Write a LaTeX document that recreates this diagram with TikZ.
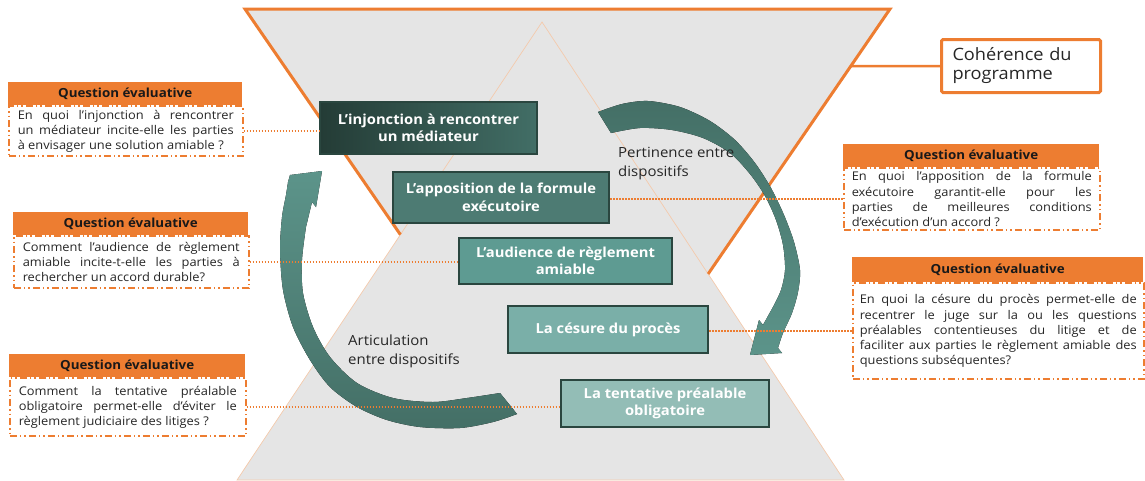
\documentclass[tikz,border=0pt]{standalone}
\usepackage{fontspec}
\setmainfont{Open Sans}[FakeStretch=1.07]
\usetikzlibrary{calc}
\definecolor{qorange}{RGB}{237,125,49}
\definecolor{paleorange}{RGB}{244,202,172}
\definecolor{bggrey}{RGB}{229,229,229}
\definecolor{txtgrey}{RGB}{38,38,38}
\definecolor{stepline}{RGB}{42,70,63}
\definecolor{stepA}{RGB}{36,60,54}
\definecolor{stepAr}{RGB}{66,110,102}
\definecolor{stepB}{RGB}{77,123,115}
\definecolor{stepC}{RGB}{94,155,146}
\definecolor{stepD}{RGB}{122,175,168}
\definecolor{stepE}{RGB}{147,189,182}
\definecolor{arrowdark}{RGB}{68,111,102}
\definecolor{arrowlight}{RGB}{92,148,138}
\tolerance=9999
\hyphenpenalty=10000
\exhyphenpenalty=10000
\newcommand{\qtitle}{Question évaluative}
\tikzset{
    common/.style={anchor=north west, inner sep=0pt},
    qhead/.style={common, fill=qorange, text=black!90, font=\bfseries\fontsize{12.5}{14}\selectfont, minimum height=23pt},
    qbody/.style={common, draw=qorange, line width=1.5pt, dash pattern=on 7pt off 3pt on 1.5pt off 3pt on 1.5pt off 3pt, text=txtgrey, font=\fontsize{12}{15.3}\selectfont, align=justify, inner xsep=9pt},
    stepbox/.style={draw=stepline, line width=2pt, text=white, font=\bfseries\fontsize{13.8}{17.5}\selectfont, align=center},
    link/.style={qorange, line width=1.5pt, dash pattern=on 1.5pt off 1.5pt},
    loopnote/.style={common, text=txtgrey, font=\fontsize{14}{19}\selectfont, align=left}
}

\begin{document}
\begin{tikzpicture}[x=1pt, y=-1pt]
    \useasboundingbox (0,0) rectangle (1145,480);
    % hourglass
    \coordinate (ul) at (245,9);
    \coordinate (ur) at (890,9);
    \coordinate (ua) at (568,478);
    \coordinate (la) at (542,22);
    \coordinate (ll) at (237,480);
    \coordinate (lr) at (844,480);
    \coordinate (xl) at (intersection of ul--ua and la--ll);
    \coordinate (xr) at (intersection of ur--ua and la--lr);
    \fill[bggrey] (ul) -- (ur) -- (ua) -- cycle;
    \filldraw[fill=bggrey, draw=paleorange, line width=0.7pt] (la) -- (ll) -- (lr) -- cycle;
    \draw[qorange, line width=3pt, line join=miter] (xl) -- (ul) -- (ur) -- (xr);

    % loop arrows
    \fill[top color=arrowdark, bottom color=arrowlight]
        plot[smooth] coordinates {(598,112) (622,104) (648,101) (680,107) (710,121) (735,140) (755,163) (771,188) (784,215) (794,242) (800,270) (798,292) (792,313) (783,333) (778,348)}
        -- (782,353) -- (750,355) -- (759,320) -- (763,325)
        -- plot[smooth] coordinates {(773,307) (781,290) (785,270) (783,245) (776,220) (765,196) (750,174) (730,153) (703,138) (672,130) (640,128) (611,133)}
        -- cycle;
    \fill[top color=arrowlight, bottom color=arrowdark]
        plot[smooth] coordinates {(517,414) (493,422) (460,428) (420,427) (387,420) (357,407) (330,387) (310,360) (293,327) (283,290) (280,250) (282,217) (286,195) (288,182)}
        -- (290,175) -- (322,171) -- (316,207) -- (312,202)
        -- plot[smooth] coordinates {(306,227) (302,260) (303,293) (313,327) (330,357) (357,383) (393,398) (433,402) (467,398) (500,393)}
        -- cycle;

    % steps
    \node[stepbox, left color=stepA, right color=stepAr, minimum width=217pt, minimum height=52pt] (inj) at (428.5,128) {L’injonction à rencontrer\\un médiateur};
    \node[stepbox, fill=stepB, minimum width=216pt, minimum height=51pt] (app) at (501,197.5) {L’apposition de la formule\\exécutoire};
    \node[stepbox, fill=stepC, minimum width=213pt, minimum height=46pt] (aud) at (565.5,261) {L’audience de règlement\\amiable};
    \node[stepbox, fill=stepD, minimum width=200pt, minimum height=47pt] (ces) at (608,329.5) {La césure du procès};
    \node[stepbox, fill=stepE, minimum width=208pt, minimum height=47pt] (tpo) at (665,403.5) {La tentative préalable\\obligatoire};

    % questions
    \node[qhead, minimum width=234pt] (q1h) at (8,82) {\qtitle};
    \node[qbody, text width=216pt, minimum height=50pt] (q1b) at (q1h.south west) {En quoi l’injonction à rencontrer\linebreak un médiateur incite-elle les parties\linebreak à envisager une solution amiable~?};
    \node[qhead, minimum width=235pt] (q2h) at (13,212) {\qtitle};
    \node[qbody, text width=217pt, minimum height=52pt] (q2b) at (q2h.south west) {Comment l’audience de règlement\linebreak amiable incite-t-elle les parties à\linebreak rechercher un accord durable?};
    \node[qhead, minimum width=236pt] (q3h) at (9,354) {\qtitle};
    \node[qbody, text width=218pt, minimum height=58pt] (q3b) at (q3h.south west) {Comment la tentative préalable\linebreak obligatoire permet-elle d’éviter le\linebreak règlement judiciaire des litiges~?};
    \node[qhead, minimum width=256pt] (q4h) at (843,144) {\qtitle};
    \node[qbody, text width=240pt, inner xsep=8pt, minimum height=62pt] (q4b) at (q4h.south west) {En quoi l’apposition de la formule\linebreak exécutoire garantit-elle pour les\linebreak parties de meilleures conditions\linebreak d’exécution d’un accord~?};
    \node[qhead, minimum width=291pt, minimum height=25pt] (q5h) at (852,257) {\qtitle};
    \node[qbody, text width=277pt, inner xsep=7pt, minimum height=96pt] (q5b) at (q5h.south west) {En quoi la césure du procès permet-elle de\linebreak recentrer le juge sur la ou les questions\linebreak préalables contentieuses du litige et de\linebreak faciliter aux parties le règlement amiable des\linebreak questions subséquentes?};

    \draw[link] (q1b.east) -- (q1b.east -| inj.west);
    \draw[link] (q2b.east) -- (q2b.east -| aud.west);
    \draw[link] (q3b.east) -- (q3b.east -| tpo.west);
    \draw[link] (app.east |- q4b.west) -- (q4b.west);
    \draw[link] (ces.east |- q5b.west) -- (q5b.west);

    % coherence
    \node[common, draw=qorange, line width=3pt, rounded corners=1.5pt, minimum height=53pt, text width=137pt, inner xsep=11pt, align=left, font=\fontsize{17}{19}\selectfont, text=txtgrey] (coh) at (940,38) {Cohérence du\\programme};
    \coordinate (cohlink) at (intersection of ur--ua and coh.west--coh.east);
    \draw[qorange, line width=2.5pt] (cohlink) -- (coh.west);

    % loop labels
    \node[loopnote] (pert) at (618,147) {Pertinence entre\\dispositifs};
    \node[loopnote] (artic) at (348,335) {Articulation\\entre dispositifs};
\end{tikzpicture}
\end{document}
